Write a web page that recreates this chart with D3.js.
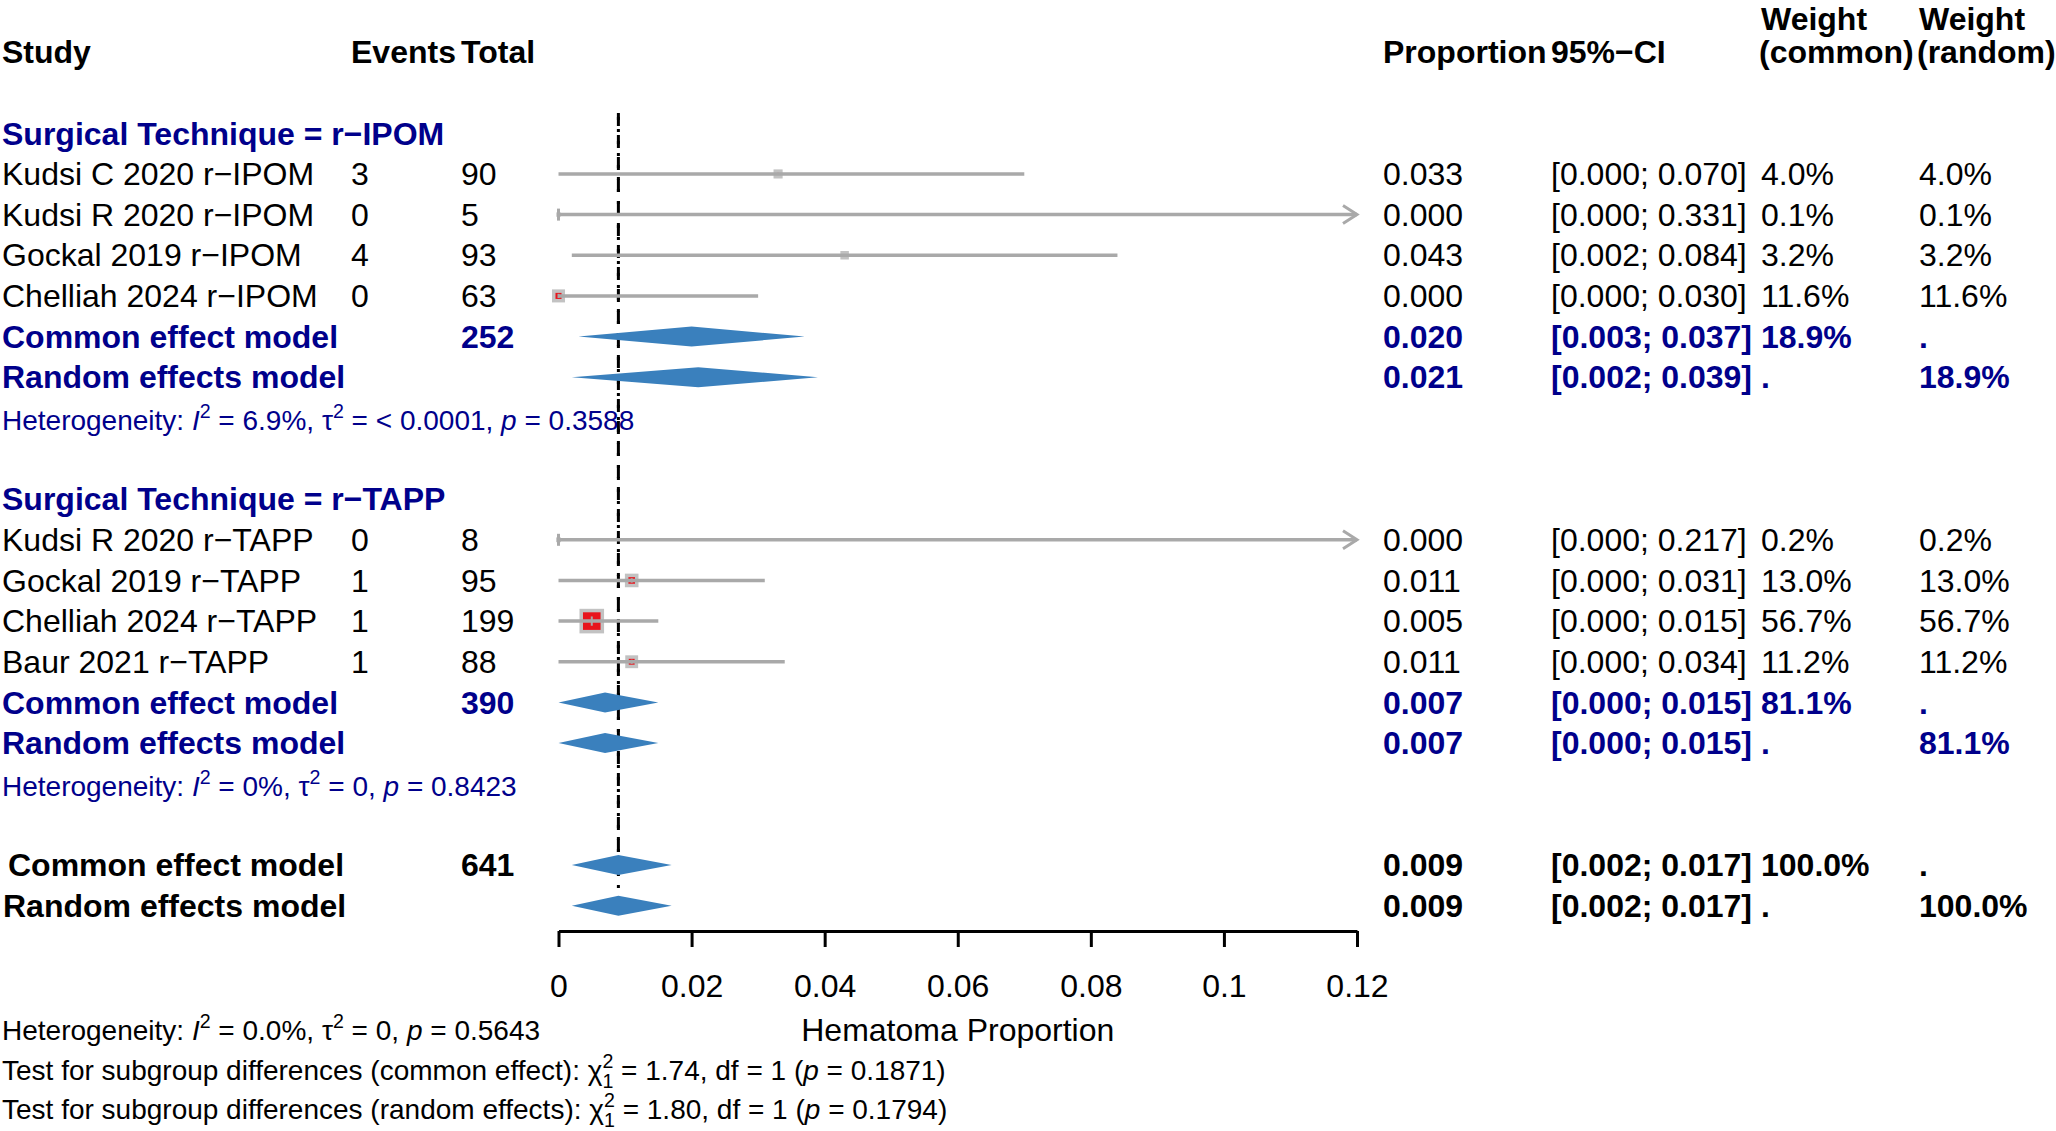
<!DOCTYPE html>
<html><head><meta charset="utf-8">
<script src="https://cdn.jsdelivr.net/npm/d3@7"></script>
<style>html,body{margin:0;padding:0;background:#fff;}svg{display:block;font-family:"Liberation Sans",Arial,Helvetica,sans-serif;}</style>
</head><body>
<svg id="chart" width="2056" height="1131"></svg>
<script>
// ---- data ----
const studies = ["Kudsi C 2020 r−IPOM","Kudsi R 2020 r−IPOM","Gockal 2019 r−IPOM","Chelliah 2024 r−IPOM",
                 "Kudsi R 2020 r−TAPP","Gockal 2019 r−TAPP","Chelliah 2024 r−TAPP","Baur 2021 r−TAPP"];
const groupOf = [0,0,0,0,1,1,1,1];
const events = [3,0,4,0,0,1,1,1];
const totals = [90,5,93,63,8,95,199,88];
const proportion = [0.033,0.000,0.043,0.000,0.000,0.011,0.005,0.011];
const ciLower = [0.000,0.000,0.002,0.000,0.000,0.000,0.000,0.000];
const ciUpper = [0.070,0.331,0.084,0.030,0.217,0.031,0.015,0.034];
const weightCommon = [4.0,0.1,3.2,11.6,0.2,13.0,56.7,11.2];
const weightRandom = [4.0,0.1,3.2,11.6,0.2,13.0,56.7,11.2];

const groupNames = ["Surgical Technique = r−IPOM","Surgical Technique = r−TAPP"];
const groupTotals = [252,390];
const groupCommonEst = [0.020,0.007], groupCommonLo = [0.003,0.000], groupCommonHi = [0.037,0.015];
const groupRandomEst = [0.021,0.007], groupRandomLo = [0.002,0.000], groupRandomHi = [0.039,0.015];
const groupWeight = ["18.9%","81.1%"];
const groupHet = [
  [{t:"Heterogeneity: "},{t:"I",i:1},{t:"2",sup:1},{t:" = 6.9%, "},{t:"τ"},{t:"2",sup:1},{t:" = < 0.0001, "},{t:"p",i:1},{t:" = 0.3588"}],
  [{t:"Heterogeneity: "},{t:"I",i:1},{t:"2",sup:1},{t:" = 0%, "},{t:"τ"},{t:"2",sup:1},{t:" = 0, "},{t:"p",i:1},{t:" = 0.8423"}]
];
const overallTotal = 641;
const overallCommon = [0.009,0.002,0.017];
const overallRandom = [0.009,0.002,0.017];
const overallWeight = "100.0%";
const footerLines = [
  [{t:"Heterogeneity: "},{t:"I",i:1},{t:"2",sup:1},{t:" = 0.0%, "},{t:"τ"},{t:"2",sup:1},{t:" = 0, "},{t:"p",i:1},{t:" = 0.5643"}],
  [{t:"Test for subgroup differences (common effect): "},{t:"χ"},{t:"2",sup:1},{t:"1",sub:1,back:1},{t:" = 1.74, df = 1 ("},{t:"p",i:1},{t:" = 0.1871)"}],
  [{t:"Test for subgroup differences (random effects): "},{t:"χ"},{t:"2",sup:1},{t:"1",sub:1,back:1},{t:" = 1.80, df = 1 ("},{t:"p",i:1},{t:" = 0.1794)"}]
];
const tickValues = [0,0.02,0.04,0.06,0.08,0.1,0.12];
const tickLabels = ["0","0.02","0.04","0.06","0.08","0.1","0.12"];
const xLabel = "Hematoma Proportion";

// ---- layout ----
const FS = 32, FSH = 28;
const BLUE = "#00008B", DIAM = "#3a80bd", GREY = "#a9a9a9", FRAME = "#c2c2c2";
const col = {study:2, events:351, total:461, prop:1383, ci:1551, wc:1761, wr:1919};
const x = d3.scaleLinear().domain([0,0.12]).range([558.5,1357]);
const y = d3.scaleLinear().domain([0,21]).range([52, 52+21*40.65]);
const svg = d3.select("#chart");
svg.append("rect").attr("width",2056).attr("height",1131).attr("fill","#fff");

function txt(xx, row, s, o={}) {
  const fs = o.size || FS;
  return svg.append("text").attr("x",xx).attr("y",y(row)+0.35*fs+(o.dy||0))
    .attr("font-size",fs).attr("font-weight",o.bold?"bold":"normal")
    .attr("fill",o.color||"#000").attr("text-anchor",o.anchor||"start").text(s);
}
function rich(xx, yy, parts, o={}) {
  const fs = o.size || FSH;
  const t = svg.append("text").attr("x",xx).attr("y",yy+0.35*fs).attr("font-size",fs).attr("fill",o.color||"#000");
  let shift = 0;
  parts.forEach(p => {
    const s = t.append("tspan").text(p.t);
    const target = p.sup ? -0.42*fs : (p.sub ? 0.30*fs : 0);
    if (target - shift !== 0) s.attr("dy", target - shift);
    shift = target;
    if (p.sup || p.sub) s.attr("font-size", 0.7*fs);
    if (p.i) s.attr("font-style","italic");
    if (p.back) s.attr("dx", -0.556*0.7*fs);
  });
}
const fmt = v => v.toFixed(3);
const ciFmt = (a,b) => "[" + fmt(a) + "; " + fmt(b) + "]";
function diamond(row, est, lo, hi) {
  const h = 10, yc = y(row);
  svg.append("path").attr("d",`M${x(lo)},${yc}L${x(est)},${yc-h}L${x(hi)},${yc}L${x(est)},${yc+h}Z`).attr("fill",DIAM);
}

// header
txt(col.study,0,"Study",{bold:1});
txt(col.events,0,"Events",{bold:1});
txt(col.total,0,"Total",{bold:1});
txt(col.prop,0,"Proportion",{bold:1});
txt(col.ci,0,"95%−CI",{bold:1});
txt(col.wc,-1,"Weight",{bold:1,dy:7});
txt(col.wc-2,0,"(common)",{bold:1});
txt(col.wr,-1,"Weight",{bold:1,dy:7});
txt(col.wr-2,0,"(random)",{bold:1});

// reference lines
const refX = x(overallCommon[0]);
svg.append("line").attr("x1",refX).attr("x2",refX).attr("y1",y(1.5)).attr("y2",y(20)-10)
  .attr("stroke","#000").attr("stroke-width",3).attr("stroke-dasharray","13,9");
svg.append("line").attr("x1",refX).attr("x2",refX).attr("y1",y(1.5)).attr("y2",y(21)-10)
  .attr("stroke","#000").attr("stroke-width",3).attr("stroke-dasharray","3,9").attr("stroke-dashoffset",-16);

// groups
let row = 2;
[0,1].forEach(g => {
  txt(col.study,row,groupNames[g],{bold:1,color:BLUE});
  row++;
  studies.forEach((s,i) => {
    if (groupOf[i] !== g) return;
    txt(col.study,row,s);
    txt(col.events,row,String(events[i]));
    txt(col.total,row,String(totals[i]));
    txt(col.prop,row,fmt(proportion[i]));
    txt(col.ci,row,ciFmt(ciLower[i],ciUpper[i]));
    txt(col.wc,row,weightCommon[i].toFixed(1)+"%");
    txt(col.wr,row,weightRandom[i].toFixed(1)+"%");
    const yc = y(row);
    const side = 2.8*Math.sqrt(weightCommon[i]);
    svg.append("rect").attr("x",x(proportion[i])-side/2).attr("y",yc-side/2).attr("width",side).attr("height",side)
      .attr("fill","#e8141c").attr("stroke",FRAME).attr("stroke-width",3.5);
    const hiC = Math.min(ciUpper[i],0.12);
    svg.append("line").attr("x1",x(ciLower[i])).attr("x2",x(hiC)).attr("y1",yc).attr("y2",yc)
      .attr("stroke",GREY).attr("stroke-width",3.5);
    if (side > 8) {
      svg.append("line").attr("x1",x(proportion[i])).attr("x2",x(proportion[i])).attr("y1",yc-side*0.22).attr("y2",yc+side*0.22)
        .attr("stroke",GREY).attr("stroke-width",2);
    }
    if (ciUpper[i] > 0.12) {
      const e = x(0.12);
      svg.append("path").attr("d",`M${e-14},${yc-9}L${e},${yc}L${e-14},${yc+9}`).attr("fill","none")
        .attr("stroke",GREY).attr("stroke-width",3);
      svg.append("line").attr("x1",x(ciLower[i])).attr("x2",x(ciLower[i])).attr("y1",yc-6).attr("y2",yc+6)
        .attr("stroke",GREY).attr("stroke-width",3);
    }
    row++;
  });
  txt(col.study,row,"Common effect model",{bold:1,color:BLUE});
  txt(col.total,row,String(groupTotals[g]),{bold:1,color:BLUE});
  txt(col.prop,row,fmt(groupCommonEst[g]),{bold:1,color:BLUE});
  txt(col.ci,row,ciFmt(groupCommonLo[g],groupCommonHi[g]),{bold:1,color:BLUE});
  txt(col.wc,row,groupWeight[g],{bold:1,color:BLUE});
  txt(col.wr,row,".",{bold:1,color:BLUE});
  diamond(row,groupCommonEst[g],groupCommonLo[g],groupCommonHi[g]);
  row++;
  txt(col.study,row,"Random effects model",{bold:1,color:BLUE});
  txt(col.prop,row,fmt(groupRandomEst[g]),{bold:1,color:BLUE});
  txt(col.ci,row,ciFmt(groupRandomLo[g],groupRandomHi[g]),{bold:1,color:BLUE});
  txt(col.wc,row,".",{bold:1,color:BLUE});
  txt(col.wr,row,groupWeight[g],{bold:1,color:BLUE});
  diamond(row,groupRandomEst[g],groupRandomLo[g],groupRandomHi[g]);
  row++;
  rich(col.study,y(row)+2,groupHet[g],{color:BLUE});
  row += 2;
});
// overall
txt(8,row,"Common effect model",{bold:1});
txt(col.total,row,String(overallTotal),{bold:1});
txt(col.prop,row,fmt(overallCommon[0]),{bold:1});
txt(col.ci,row,ciFmt(overallCommon[1],overallCommon[2]),{bold:1});
txt(col.wc,row,overallWeight,{bold:1});
txt(col.wr,row,".",{bold:1});
diamond(row,overallCommon[0],overallCommon[1],overallCommon[2]);
row++;
txt(3,row,"Random effects model",{bold:1});
txt(col.prop,row,fmt(overallRandom[0]),{bold:1});
txt(col.ci,row,ciFmt(overallRandom[1],overallRandom[2]),{bold:1});
txt(col.wc,row,".",{bold:1});
txt(col.wr,row,overallWeight,{bold:1});
diamond(row,overallRandom[0],overallRandom[1],overallRandom[2]);

// axis
const axisY = 931;
const ax = svg.append("g").attr("transform",`translate(0,${axisY})`)
  .call(d3.axisBottom(x).tickValues(tickValues).tickFormat((d,i)=>tickLabels[i]).tickSize(16).tickSizeOuter(0).tickPadding(27));
ax.selectAll("path,line").attr("stroke","#000").attr("stroke-width",3);
ax.selectAll("text").attr("font-size",FS).attr("font-family","Liberation Sans, Arial, sans-serif").attr("fill","#000");
svg.append("text").attr("x",(x(0)+x(0.12))/2).attr("y",1030+0.35*FS).attr("text-anchor","middle")
  .attr("font-size",FS).text(xLabel);

// footer
[1030,1070,1109].forEach((yy,i)=>rich(2,yy,footerLines[i]));
</script>
</body></html>
